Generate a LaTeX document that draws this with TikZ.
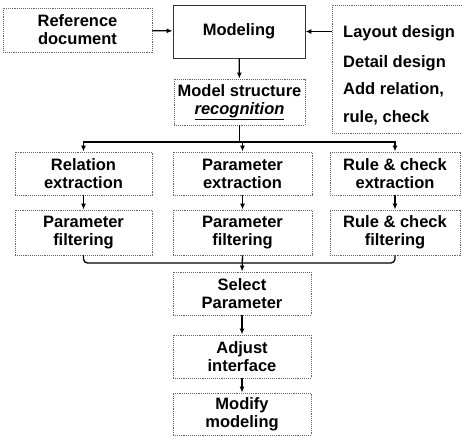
\documentclass[tikz,border=0pt]{standalone}
\usepackage{fontspec}
\setmainfont{Liberation Sans}
\usetikzlibrary{arrows.meta}
\newcommand{\boxfont}{\fontsize{16.5}{18}\selectfont\bfseries}
\tikzset{
  procbox/.style={draw=black!60, densely dotted, line width=0.9pt, align=center,
    inner sep=0pt, font=\boxfont},
  flow/.style={line width=1.3pt, -{Latex[length=6pt,width=5pt]}},
  joint/.style={line width=1.3pt}
}
\begin{document}
\begin{tikzpicture}[x=1pt, y=-1pt]
    \useasboundingbox (0,0) rectangle (462,436);
    % Top row
    \node[procbox, minimum width=149pt, minimum height=44pt] (refdoc) at (77.5,30) {Reference\\document};
    \node[procbox, draw=black!80, solid, minimum width=132pt, minimum height=53pt] (model) at (239,31.5) {Modeling};
    \node[procbox, anchor=north west, minimum width=145pt, minimum height=128pt] (design) at (332,5) {};
    \node[anchor=west, inner sep=0pt, font=\boxfont] (layout) at (343,33) {Layout design};
    \node[anchor=west, inner sep=0pt, font=\boxfont] (detail) at (343,63) {Detail design};
    \node[anchor=north west, align=left, inner sep=0pt, font=\fontsize{16.5}{28}\selectfont\bfseries] (addrel) at (343,82) {Add relation,\\rule, check};
    \draw[flow] (refdoc) -- (model);
    \draw[flow] (design.west |- model) -- (model.east);
    % Recognition
    \node[procbox, minimum width=131pt, minimum height=46pt] (struct) at (239.5,102) {Model structure\\\underline{\itshape recognition}};
    \draw[flow] (model) -- (struct);
    % Extraction
    \node[procbox, minimum width=137pt, minimum height=43pt] (relx) at (83.5,173.5) {Relation\\extraction};
    \node[procbox, minimum width=139pt, minimum height=43pt] (parx) at (242.5,173.5) {Parameter\\extraction};
    \node[procbox, minimum width=130pt, minimum height=43pt] (rulex) at (395,173.5) {Rule \& check\\extraction};
    \coordinate (split) at (struct.south |- 0,142);
    \draw[joint] (struct.south) -- (split);
    \draw[flow] (split) -| (relx.north);
    \draw[flow] (split) -| (rulex.north);
    \draw[flow] (split) -- (split -| parx.north) -- (parx.north);
    % Filtering
    \node[procbox, minimum width=137pt, minimum height=45pt] (relf) at (83.5,232.5) {Parameter\\filtering};
    \node[procbox, minimum width=139pt, minimum height=45pt] (parf) at (242.5,232.5) {Parameter\\filtering};
    \node[procbox, minimum width=130pt, minimum height=45pt] (rulef) at (395,232.5) {Rule \& check\\filtering};
    \draw[flow] (relx) -- (relf);
    \draw[flow] (parx) -- (parf);
    \draw[flow] (rulex) -- (rulef);
    % Selection and adjustment
    \node[procbox, minimum width=138pt, minimum height=43pt] (select) at (242,293.5) {Select\\Parameter};
    \node[procbox, minimum width=138pt, minimum height=43pt] (adjust) at (242,356.5) {Adjust\\interface};
    \node[procbox, minimum width=138pt, minimum height=42pt] (modify) at (242,414) {Modify\\modeling};
    \coordinate (merge) at (select.north |- 0,263);
    \draw[joint, rounded corners=4pt] (relf.south) |- (merge);
    \draw[joint, rounded corners=4pt] (rulef.south) |- (merge);
    \draw[flow] (parf.south) -- (select.north);
    \draw[flow] (select) -- (adjust);
    \draw[flow] (adjust) -- (modify);
\end{tikzpicture}
\end{document}
